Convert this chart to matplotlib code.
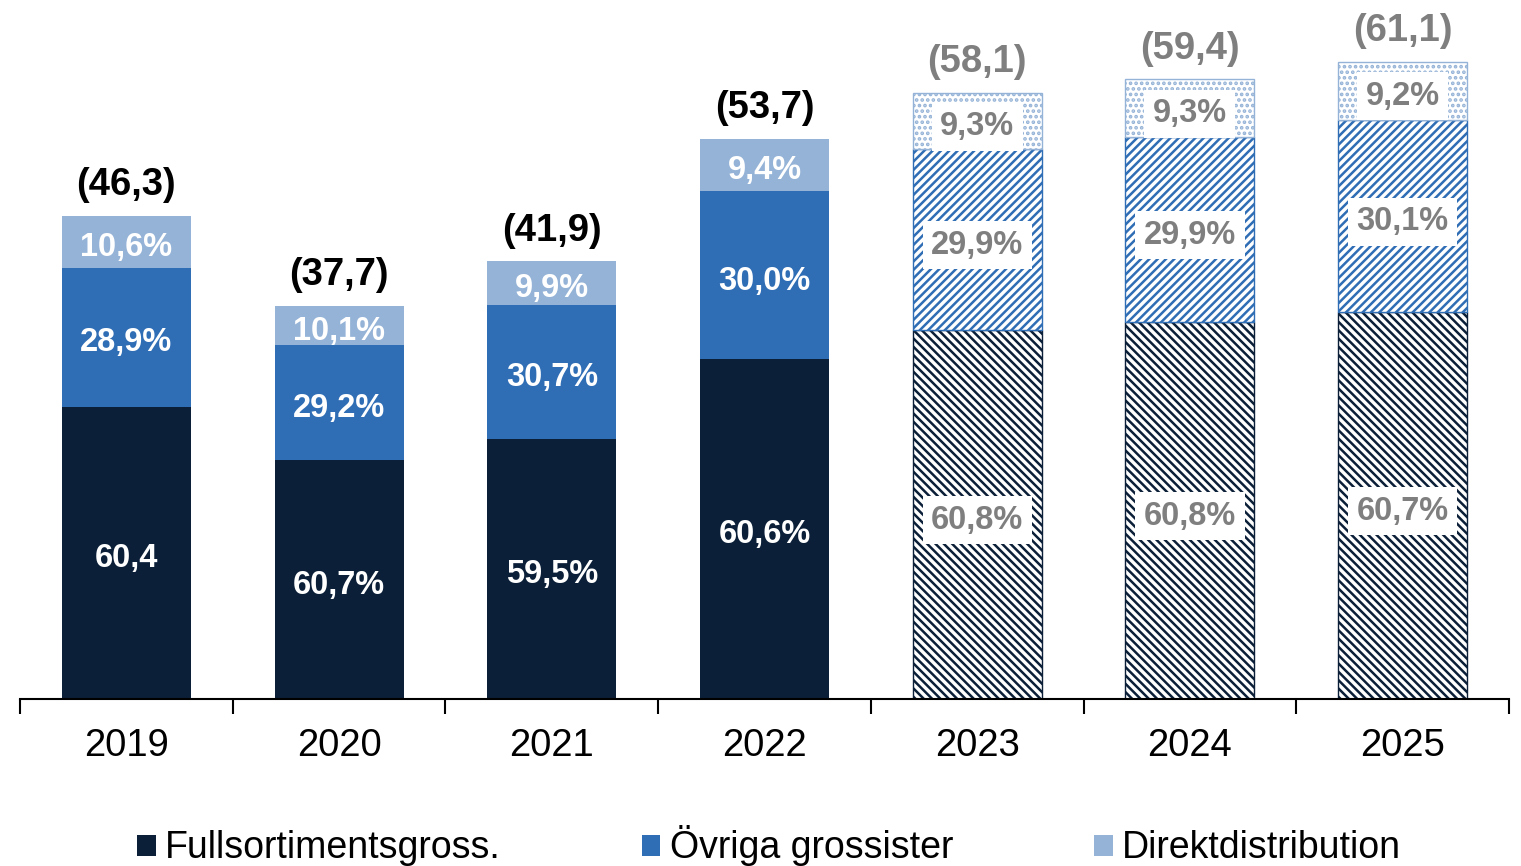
import matplotlib.pyplot as plt
import numpy as np
from matplotlib.patches import Patch

plt.rcParams['font.family'] = ['Liberation Sans', 'DejaVu Sans']
plt.rcParams['hatch.linewidth'] = 1.8

years = ['2019', '2020', '2021', '2022', '2023', '2024', '2025']
totals = [46.3, 37.7, 41.9, 53.7, 58.1, 59.4, 61.1]
full_pct = [60.4, 60.7, 59.5, 60.6, 60.8, 60.8, 60.7]
ovr_pct = [28.9, 29.2, 30.7, 30.0, 29.9, 29.9, 30.1]
dir_pct = [10.6, 10.1, 9.9, 9.4, 9.3, 9.3, 9.2]
full_labels = ['60,4', '60,7%', '59,5%', '60,6%', '60,8%', '60,8%', '60,7%']
n_actual = 4  # 2023- are forecasts

names = ['Fullsortimentsgross.', 'Övriga grossister', 'Direktdistribution']
colors = ['#0B1F38', '#2F6DB5', '#95B3D7']
hatches = ['\\\\\\\\', '////', '...']
gray = '#7F7F7F'

def fmt(v):
    return f'{v:.1f}%'.replace('.', ',')

fig = plt.figure(figsize=(15.21, 8.66), dpi=100)
ax = fig.add_axes([20/1521, 1 - 699/866, 1489/1521, 699/866])

x = np.arange(len(years))
w = 0.606
for i in range(len(years)):
    segs = [totals[i] * p / 100 for p in (full_pct[i], ovr_pct[i], dir_pct[i])]
    labs = [full_labels[i], fmt(ovr_pct[i]), fmt(dir_pct[i])]
    bottom = 0
    for k in range(3):
        if i < n_actual:
            ax.bar(x[i], segs[k], w, bottom=bottom, color=colors[k], linewidth=0)
            ax.annotate(labs[k], (x[i], bottom + segs[k] / 2), xytext=(0, -4),
                        textcoords='offset points', ha='center', va='center',
                        color='white', fontsize=23.5, fontweight='bold')
        else:
            ax.bar(x[i], segs[k], w, bottom=bottom, facecolor='white',
                   edgecolor=colors[k], hatch=hatches[k], linewidth=1)
            ax.annotate(labs[k], (x[i], bottom + segs[k] / 2), xytext=(0, -4),
                        textcoords='offset points', ha='center', va='center',
                        color=gray, fontsize=23.5, fontweight='bold',
                        bbox=dict(facecolor='white', edgecolor='none', pad=6))
        bottom += segs[k]
    ax.annotate('(' + f'{totals[i]:.1f}'.replace('.', ',') + ')', (x[i], totals[i]),
                xytext=(0, 9), textcoords='offset points', ha='center', va='bottom',
                fontsize=27.5, fontweight='bold',
                color='black' if i < n_actual else gray)

ax.set_xlim(-0.5, len(years) - 0.5)
ax.set_ylim(0, 67.0)
ax.set_yticks([])
ax.set_xticks(np.arange(len(years) + 1) - 0.5)
ax.set_xticklabels([])
ax.tick_params(axis='x', which='major', length=11, width=1.5, direction='out')
ax.set_xticks(x, minor=True)
ax.set_xticklabels(years, minor=True, fontsize=27.5)
ax.tick_params(axis='x', which='minor', length=0, pad=21)
for s in ['top', 'right', 'left']:
    ax.spines[s].set_visible(False)
ax.spines['bottom'].set_linewidth(1.5)
ax.patch.set_alpha(0)

handles = [Patch(facecolor=c, edgecolor='none') for c in colors]
fig.legend(handles, names, loc='center', bbox_to_anchor=(769/1521, 1 - 846/866),
           ncol=3, frameon=False, fontsize=27, handlelength=0.5, handleheight=0.5,
           handletextpad=0.25, columnspacing=3.75, borderpad=0)

fig.savefig('out.png', dpi=100)
